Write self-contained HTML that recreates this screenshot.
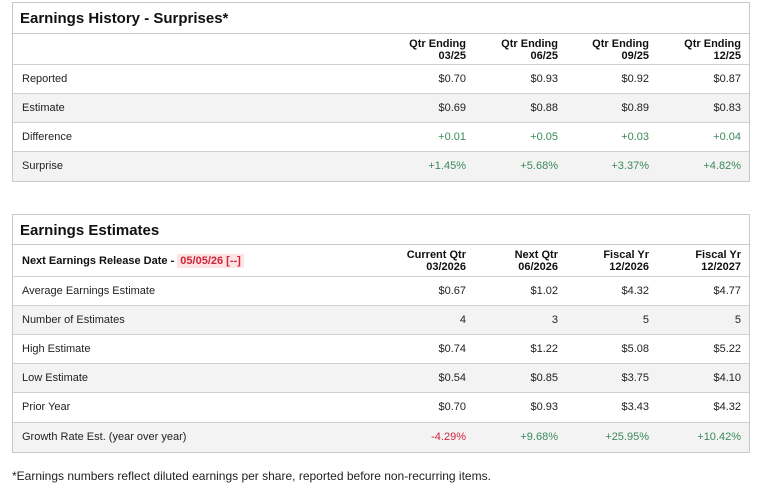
<!DOCTYPE html>
<html><head><style>
*{margin:0;padding:0;box-sizing:border-box}
body{width:761px;height:486px;background:#fff;font-family:"Liberation Sans",sans-serif;color:#222;position:relative;overflow:hidden}
.box{position:absolute;left:12px;width:738px;border:1px solid #c8c8c8}
.title{font-size:15px;font-weight:bold;color:#111;padding-left:7px;border-bottom:1px solid #c8c8c8}
.row{position:relative;border-bottom:1px solid #d0d0d0;font-size:11px}
.row:last-child{border-bottom:none}
.g{background:#f3f3f3}
.lab{position:absolute;left:9px}
.c{position:absolute;text-align:right;width:90px}
.c1{right:283px}.c2{right:191px}.c3{right:100px}.c4{right:8px}
.hd{font-weight:bold;font-size:11px;line-height:12px;color:#111}
.gr{color:#3a8a5a}.rd{color:#d0243a}
</style></head><body>
<div class="box" style="top:2px">
<div class="title" style="height:31px;line-height:31px">Earnings History - Surprises*</div>
<div class="row" style="height:31px"><div class="c c1 hd" style="top:4px">Qtr Ending<br>03/25</div><div class="c c2 hd" style="top:4px">Qtr Ending<br>06/25</div><div class="c c3 hd" style="top:4px">Qtr Ending<br>09/25</div><div class="c c4 hd" style="top:4px">Qtr Ending<br>12/25</div></div>
<div class="row" style="height:29px;line-height:29px"><span class="lab">Reported</span><span class="c c1">$0.70</span><span class="c c2">$0.93</span><span class="c c3">$0.92</span><span class="c c4">$0.87</span></div>
<div class="row g" style="height:29px;line-height:29px"><span class="lab">Estimate</span><span class="c c1">$0.69</span><span class="c c2">$0.88</span><span class="c c3">$0.89</span><span class="c c4">$0.83</span></div>
<div class="row gr" style="height:29px;line-height:29px"><span class="lab" style="color:#222">Difference</span><span class="c c1">+0.01</span><span class="c c2">+0.05</span><span class="c c3">+0.03</span><span class="c c4">+0.04</span></div>
<div class="row g gr" style="height:29px;line-height:29px"><span class="lab" style="color:#222">Surprise</span><span class="c c1">+1.45%</span><span class="c c2">+5.68%</span><span class="c c3">+3.37%</span><span class="c c4">+4.82%</span></div>
</div>
<div class="box" style="top:214px">
<div class="title" style="height:30px;line-height:32px">Earnings Estimates</div>
<div class="row" style="height:32px"><span class="lab hd" style="top:10px">Next Earnings Release Date - <span style="background:#fde3e3;color:#d0243a;padding:1px 3px">05/05/26 [--]</span></span><div class="c c1 hd" style="top:4px">Current Qtr<br>03/2026</div><div class="c c2 hd" style="top:4px">Next Qtr<br>06/2026</div><div class="c c3 hd" style="top:4px">Fiscal Yr<br>12/2026</div><div class="c c4 hd" style="top:4px">Fiscal Yr<br>12/2027</div></div>
<div class="row" style="height:29px;line-height:29px"><span class="lab">Average Earnings Estimate</span><span class="c c1">$0.67</span><span class="c c2">$1.02</span><span class="c c3">$4.32</span><span class="c c4">$4.77</span></div>
<div class="row g" style="height:29px;line-height:29px"><span class="lab">Number of Estimates</span><span class="c c1">4</span><span class="c c2">3</span><span class="c c3">5</span><span class="c c4">5</span></div>
<div class="row" style="height:29px;line-height:29px"><span class="lab">High Estimate</span><span class="c c1">$0.74</span><span class="c c2">$1.22</span><span class="c c3">$5.08</span><span class="c c4">$5.22</span></div>
<div class="row g" style="height:29px;line-height:29px"><span class="lab">Low Estimate</span><span class="c c1">$0.54</span><span class="c c2">$0.85</span><span class="c c3">$3.75</span><span class="c c4">$4.10</span></div>
<div class="row" style="height:30px;line-height:29px"><span class="lab">Prior Year</span><span class="c c1">$0.70</span><span class="c c2">$0.93</span><span class="c c3">$3.43</span><span class="c c4">$4.32</span></div>
<div class="row g" style="height:29px;line-height:29px"><span class="lab">Growth Rate Est. (year over year)</span><span class="c c1 rd">-4.29%</span><span class="c c2 gr">+9.68%</span><span class="c c3 gr">+25.95%</span><span class="c c4 gr">+10.42%</span></div>
</div>
<div style="position:absolute;left:12px;top:469px;font-size:12px;color:#222">*Earnings numbers reflect diluted earnings per share, reported before non-recurring items.</div>
</body></html>
